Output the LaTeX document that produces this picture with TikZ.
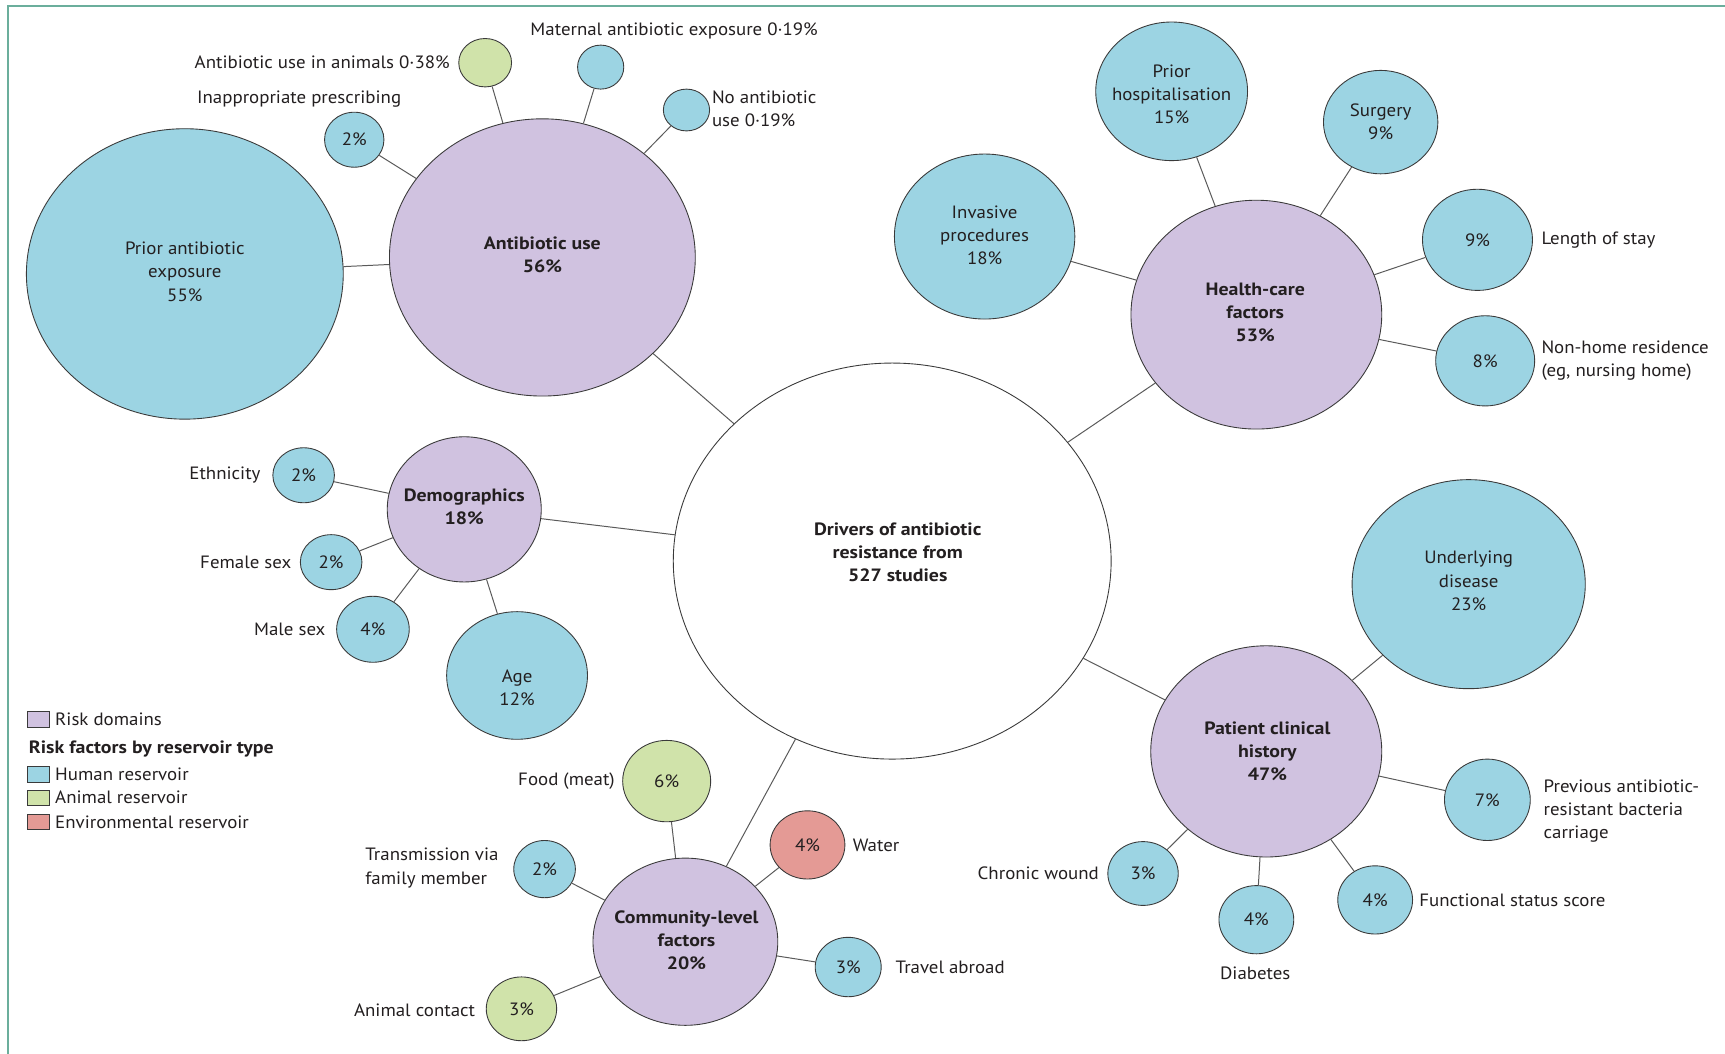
\documentclass[tikz,border=0pt]{standalone}
\usepackage{fontspec}
\setmainfont{PT Sans}[FakeStretch=1.06, BoldFeatures={FakeStretch=1.115}]
\usetikzlibrary{shapes.geometric}
\definecolor{hblue}{HTML}{9CD4E3}
\definecolor{dpurp}{HTML}{D0C2E0}
\definecolor{agreen}{HTML}{D0E3AA}
\definecolor{ered}{HTML}{E49A95}
\definecolor{outl}{HTML}{3A3A3A}
\definecolor{conn}{HTML}{5A5A5A}
\definecolor{frame}{HTML}{6BAE9C}
\definecolor{txtc}{HTML}{231F20}
\tikzset{
  bub/.style 2 args={ellipse, draw=outl, line width=0.8pt, inner sep=0pt,
    minimum width=2*#1pt, minimum height=2*#2pt},
  hum/.style={fill=hblue},
  dom/.style={fill=dpurp},
  ani/.style={fill=agreen},
  env/.style={fill=ered},
  ctrb/.style={fill=white},
  txt/.style={inner sep=0pt, text=txtc, font=\fontsize{16.2}{21}\selectfont, align=center},
  btxt/.style={txt, font=\fontsize{16.2}{21}\selectfont\bfseries},
  lbl/.style={txt, align=left},
  conline/.style={draw=conn, line width=0.9pt},
  legbox/.style={draw=outl, line width=0.7pt, minimum width=20pt, minimum height=14pt, inner sep=0pt}
}
\begin{document}
\begin{tikzpicture}[x=1pt,y=-1pt]
\useasboundingbox (0,0) rectangle (1568,958);
\fill[white] (0,0) rectangle (1568,958);
\draw[frame, line width=2.6pt] (7.3,958) -- (7.3,5.5) -- (1568,5.5);

% center
\node[bub={199}{180}, ctrb] (ctr) at (811,510) {};
\node[btxt] (ctrt) at (816,502) {Drivers of antibiotic\\resistance from\\527 studies};

% Antibiotic use domain
\node[bub={139}{126}, dom] (abu) at (493,234) {};
\node[btxt] (abut) at (493,232) {Antibiotic use\\56\%};
\node[bub={144}{132}, hum] (pae) at (168,249) {};
\node[txt] (paet) at (168,247) {Prior antibiotic\\exposure\\55\%};
\node[bub={27}{25}, hum] (inap) at (322,127) {};
\node[txt] (inapt) at (322,127) {2\%};
\node[bub={24}{22}, ani] (anim) at (441,57) {};
\node[bub={21}{20}, hum] (mat) at (546,61) {};
\node[bub={21}{19}, hum] (noab) at (624,100) {};
\node[lbl, anchor=east] (animl) at (409,57) {Antibiotic use in animals 0·38\%};
\node[lbl, anchor=west] (inapl) at (179,90) {Inappropriate prescribing};
\node[lbl, anchor=west] (matl) at (482,28) {Maternal antibiotic exposure 0·19\%};
\node[lbl, anchor=west] (noabl) at (647,99) {No antibiotic\\use 0·19\%};

% Demographics
\node[bub={70}{66}, dom] (dem) at (422,463) {};
\node[btxt] (demt) at (422,461) {Demographics\\18\%};
\node[bub={28}{25}, hum] (eth) at (276,432) {};
\node[txt] (etht) at (276,432) {2\%};
\node[bub={28}{25}, hum] (fem) at (301,511) {};
\node[txt] (femt) at (301,511) {2\%};
\node[bub={33}{30}, hum] (male) at (339,572) {};
\node[txt] (malet) at (339,572) {4\%};
\node[bub={64}{58}, hum] (age) at (470,614) {};
\node[txt] (aget) at (470,625) {Age\\12\%};
\node[lbl, anchor=east] (ethl) at (237,432) {Ethnicity};
\node[lbl, anchor=east] (feml) at (265,511) {Female sex};
\node[lbl, anchor=east] (malel) at (296,572) {Male sex};

% Health-care factors
\node[bub={114}{104}, dom] (hcf) at (1142,286) {};
\node[btxt] (hcft) at (1141,284) {Health-care\\factors\\53\%};
\node[bub={82}{75}, hum] (inv) at (895,215) {};
\node[txt] (invt) at (895,214) {Invasive\\procedures\\18\%};
\node[bub={69}{63}, hum] (hosp) at (1065,83) {};
\node[txt] (hospt) at (1065,86) {Prior\\hospitalisation\\15\%};
\node[bub={52}{47}, hum] (surg) at (1255,111) {};
\node[txt] (surgt) at (1255,111) {Surgery\\9\%};
\node[bub={50}{46}, hum] (los) at (1343,218) {};
\node[txt] (lost) at (1343,218) {9\%};
\node[bub={45}{41}, hum] (nhr) at (1350,328) {};
\node[txt] (nhrt) at (1350,328) {8\%};
\node[lbl, anchor=west] (losl) at (1401,218) {Length of stay};
\node[lbl, anchor=west] (nhrl) at (1401,328) {Non-home residence\\(eg, nursing home)};

% Patient clinical history
\node[bub={105}{96}, dom] (pch) at (1151,683) {};
\node[btxt] (pcht) at (1152,683) {Patient clinical\\history\\47\%};
\node[bub={106}{95}, hum] (und) at (1335,531) {};
\node[txt] (undt) at (1335,528) {Underlying\\disease\\23\%};
\node[bub={39}{37}, hum] (prev) at (1352,727) {};
\node[txt] (prevt) at (1352,727) {7\%};
\node[bub={32}{29}, hum] (chr) at (1039,794) {};
\node[txt] (chrt) at (1039,794) {3\%};
\node[bub={34}{31}, hum] (dia) at (1142,836) {};
\node[txt] (diat) at (1142,836) {4\%};
\node[bub={34}{31}, hum] (fun) at (1250,818) {};
\node[txt] (funt) at (1250,818) {4\%};
\node[lbl, anchor=west] (prevl) at (1403,737) {Previous antibiotic-\\resistant bacteria\\carriage};
\node[lbl, anchor=east] (chrl) at (999,794) {Chronic wound};
\node[txt] (dial) at (1141,885) {Diabetes};
\node[lbl, anchor=west] (funl) at (1290,818) {Functional status score};

% Community-level factors
\node[bub={84}{76}, dom] (clf) at (623,856) {};
\node[btxt] (clft) at (624,855) {Community-level\\factors\\20\%};
\node[bub={40}{37}, ani] (food) at (606,710) {};
\node[txt] (foodt) at (606,710) {6\%};
\node[bub={34}{31}, env] (water) at (734,768) {};
\node[txt] (watert) at (734,768) {4\%};
\node[bub={28}{26}, hum] (trans) at (495,790) {};
\node[txt] (transt) at (495,790) {2\%};
\node[bub={30}{27}, hum] (trav) at (771,879) {};
\node[txt] (travt) at (771,879) {3\%};
\node[bub={32}{29}, ani] (animc) at (474,917) {};
\node[txt] (animct) at (474,917) {3\%};
\node[lbl, anchor=east] (foodl) at (559,710) {Food (meat)};
\node[lbl, anchor=west] (waterl) at (775,768) {Water};
\node[lbl, anchor=west] (transl) at (332,789) {Transmission via\\family member};
\node[lbl, anchor=west] (travl) at (814,879) {Travel abroad};
\node[lbl, anchor=east] (animcl) at (432,918) {Animal contact};

% connectors
\foreach \a/\b in {ctr/abu, ctr/hcf, ctr/pch, ctr/clf, ctr/dem,
  abu/pae, abu/inap, abu/anim, abu/mat, abu/noab,
  dem/eth, dem/fem, dem/male, dem/age,
  hcf/inv, hcf/hosp, hcf/surg, hcf/los, hcf/nhr,
  pch/und, pch/prev, pch/chr, pch/dia, pch/fun,
  clf/food, clf/water, clf/trans, clf/trav, clf/animc}
  \draw[conline] (\a) -- (\b);

% legend
\node[legbox, dom] (lg1) at (35,654) {};
\node[lbl, anchor=west] (lg1t) at (50,654) {Risk domains};
\node[btxt, anchor=west] (lgh) at (26,681) {Risk factors by reservoir type};
\node[legbox, hum] (lg2) at (35,704) {};
\node[lbl, anchor=west] (lg2t) at (50,704) {Human reservoir};
\node[legbox, ani] (lg3) at (35,725) {};
\node[lbl, anchor=west] (lg3t) at (50,725) {Animal reservoir};
\node[legbox, env] (lg4) at (35,747) {};
\node[lbl, anchor=west] (lg4t) at (50,747) {Environmental reservoir};
\end{tikzpicture}
\end{document}
